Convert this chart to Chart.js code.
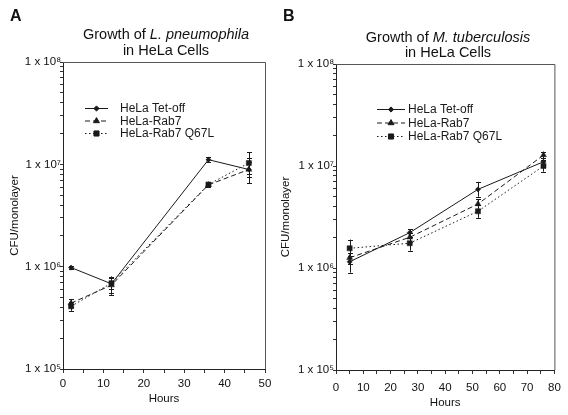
<!DOCTYPE html>
<html><head><meta charset="utf-8">
<script src="https://cdn.jsdelivr.net/npm/chart.js@4"></script>
<style>
html,body{margin:0;padding:0;background:#fff;}
#wrap{position:relative;width:568px;height:415px;overflow:hidden;font-family:"Liberation Sans",Arial,sans-serif;color:#111;}
canvas{position:absolute;top:0;}
.t{position:absolute;white-space:nowrap;transform:translateX(-50%);font-size:14.5px;height:18px;line-height:18px;}
.lt{position:absolute;font-weight:bold;font-size:16px;height:18px;line-height:18px;}
</style></head>
<body><div id="wrap">
<canvas id="cA" width="276" height="415" style="left:0"></canvas>
<canvas id="cB" width="292" height="415" style="left:276px"></canvas>
<div class="lt" style="left:10px;top:6.5px">A</div>
<div class="lt" style="left:283px;top:6.5px">B</div>
<div class="t" style="left:166px;top:25px">Growth of <i>L. pneumophila</i></div>
<div class="t" style="left:166px;top:41px">in HeLa Cells</div>
<div class="t" style="left:448px;top:28px">Growth of <i>M. tuberculosis</i></div>
<div class="t" style="left:448px;top:43px">in HeLa Cells</div>
</div>
<script>
// ---- Data ----
const seriesNames = ["HeLa Tet-off", "HeLa-Rab7", "HeLa-Rab7 Q67L"];

// Panel A: L. pneumophila
const hoursA = [2, 12, 36, 46];
const tetOffA   = [9.8e5, 6.8e5, 1.11e7, 8.9e6];
const tetOffA_lo = [9.5e5, 6.0e5, 1.05e7, 7.5e6];
const tetOffA_hi = [1.02e6, 7.8e5, 1.18e7, 1.05e7];
const rab7A     = [4.4e5, 6.6e5, 6.3e6, 8.9e6];
const rab7A_lo  = [4.0e5, 5.5e5, 6.0e6, 6.5e6];
const rab7A_hi  = [4.8e5, 8.0e5, 6.6e6, 1.15e7];
const q67lA     = [4.1e5, 6.9e5, 6.35e6, 1.03e7];
const q67lA_lo  = [3.7e5, 5.3e5, 6.0e6, 8.0e6];
const q67lA_hi  = [4.5e5, 8.0e5, 6.7e6, 1.32e7];

// Panel B: M. tuberculosis
const hoursB = [5, 27, 52, 76];
const tetOffB   = [1.15e6, 2.22e6, 5.9e6, 1.10e7];
const tetOffB_lo = [9.0e5, 2.0e6, 5.0e6, 1.0e7];
const tetOffB_hi = [1.3e6, 2.4e6, 7.0e6, 1.2e7];
const rab7B     = [1.26e6, 2.0e6, 4.24e6, 1.28e7];
const rab7B_lo  = [1.1e6, 1.8e6, 3.8e6, 1.15e7];
const rab7B_hi  = [1.4e6, 2.2e6, 4.7e6, 1.38e7];
const q67lB     = [1.56e6, 1.75e6, 3.6e6, 1.0e7];
const q67lB_lo  = [1.3e6, 1.48e6, 3.1e6, 8.8e6];
const q67lB_hi  = [1.9e6, 2.0e6, 4.1e6, 1.15e7];

// Axis ticks
const yDecades = [1e5, 1e6, 1e7, 1e8];
const yMinorMultipliers = [2, 3, 4, 5, 6, 7, 8, 9];
const xTickStep = 5;
const xLabelStep = 10;

// ---- Styles ----
const FONT = '"Liberation Sans", Arial, sans-serif';
const INK = '#1a1a1a';
const styles = [
  {pointStyle: 'rectRot', radius: 2.6, dash: []},
  {pointStyle: 'triangle', radius: 3.4, dash: [5, 3]},
  {pointStyle: 'rect', radius: 3.6, dash: [1.5, 2.5]}
];
const supers = {'0':'⁰','1':'¹','2':'²','3':'³','4':'⁴','5':'⁵','6':'⁶','7':'⁷','8':'⁸','9':'⁹'};

function yTicks() {
  const t = [];
  for (let i = 0; i < yDecades.length; i++) {
    t.push({value: yDecades[i], major: true});
    if (i < yDecades.length - 1) yMinorMultipliers.forEach(m => t.push({value: m * yDecades[i], major: false}));
  }
  return t.sort((a, b) => a.value - b.value);
}

function buildDatasets(hours, vals, los, his) {
  return vals.map((v, i) => ({
    label: seriesNames[i],
    data: hours.map((h, j) => ({x: h, y: v[j]})),
    lo: los[i], hi: his[i],
    borderColor: INK, backgroundColor: INK,
    borderWidth: 1, borderDash: styles[i].dash,
    pointStyle: styles[i].pointStyle, pointRadius: styles[i].radius,
    pointBorderWidth: 0.5, pointBorderColor: INK, pointBackgroundColor: INK,
    tension: 0, fill: false
  }));
}

const framePlugin = {
  id: 'frame',
  beforeDatasetsDraw(chart) {
    const {ctx, chartArea: a} = chart;
    ctx.save();
    ctx.strokeStyle = '#555';
    ctx.lineWidth = 1;
    ctx.beginPath();
    ctx.moveTo(a.left, a.top + 0.5); ctx.lineTo(a.right + 0.5, a.top + 0.5); ctx.lineTo(a.right + 0.5, a.bottom);
    ctx.stroke();
    ctx.restore();
  }
};

const errorBarPlugin = {
  id: 'errorBars',
  afterDatasetsDraw(chart) {
    const {ctx} = chart;
    const xs = chart.scales.x, ys = chart.scales.y;
    ctx.save();
    ctx.strokeStyle = INK;
    ctx.lineWidth = 1;
    chart.data.datasets.forEach(ds => {
      ds.data.forEach((p, j) => {
        const x = Math.round(xs.getPixelForValue(p.x)) + 0.5;
        const y1 = ys.getPixelForValue(ds.lo[j]);
        const y2 = ys.getPixelForValue(ds.hi[j]);
        ctx.beginPath();
        ctx.moveTo(x, y1); ctx.lineTo(x, y2);
        ctx.moveTo(x - 2.5, Math.round(y1) + 0.5); ctx.lineTo(x + 2.5, Math.round(y1) + 0.5);
        ctx.moveTo(x - 2.5, Math.round(y2) + 0.5); ctx.lineTo(x + 2.5, Math.round(y2) + 0.5);
        ctx.stroke();
      });
    });
    ctx.restore();
  }
};

const legendPlugin = {
  id: 'customLegend',
  afterDraw(chart, args, opts) {
    const {ctx} = chart;
    ctx.save();
    chart.data.datasets.forEach((ds, i) => {
      const y = opts.rows[i];
      ctx.strokeStyle = INK; ctx.lineWidth = 1;
      ctx.setLineDash(styles[i].dash);
      ctx.beginPath();
      ctx.moveTo(opts.x1, y + 0.5); ctx.lineTo(opts.x2, y + 0.5);
      ctx.stroke();
      ctx.setLineDash([]);
      ctx.fillStyle = INK;
      Chart.helpers.drawPoint(ctx, {pointStyle: styles[i].pointStyle, radius: styles[i].radius, borderWidth: 0.5}, (opts.x1 + opts.x2) / 2, y + 0.5);
      ctx.font = '12px ' + FONT;
      ctx.textBaseline = 'middle';
      ctx.textAlign = 'left';
      ctx.fillText(ds.label, opts.textX, y + 1);
    });
    ctx.restore();
  }
};

function makeChart(id, cfg) {
  new Chart(document.getElementById(id), {
    type: 'line',
    data: {datasets: cfg.datasets},
    options: {
      responsive: false, animation: false,
      layout: {padding: {left: 0, right: cfg.padRight, top: cfg.padTop, bottom: 0}},
      plugins: {
        legend: {display: false}, tooltip: {enabled: false}, title: {display: false},
        customLegend: cfg.legend
      },
      scales: {
        x: {
          type: 'linear', min: 0, max: cfg.xMax,
          afterFit: s => { s.height = cfg.xHeight; },
          ticks: {
            stepSize: xTickStep, autoSkip: false, maxRotation: 0, padding: cfg.xTickPad,
            color: '#111', font: {family: FONT, size: 11.5},
            callback: v => (v % xLabelStep === 0 ? String(v) : '')
          },
          grid: {drawOnChartArea: false, drawTicks: true, tickLength: 4, color: '#333'},
          border: {color: '#222', width: 1},
          title: {display: true, text: 'Hours', color: '#111', font: {family: FONT, size: 11.5}, padding: {top: 0, bottom: cfg.xTitlePad}}
        },
        y: {
          type: 'logarithmic', min: yDecades[0], max: yDecades[yDecades.length - 1],
          afterFit: s => { s.width = cfg.yWidth; },
          afterBuildTicks: s => { s.ticks = yTicks(); },
          ticks: {
            autoSkip: false, padding: -1, color: '#111', font: {family: FONT, size: 11.5},
            callback: v => {
              const e = Math.log10(v);
              if (Math.abs(e - Math.round(e)) > 1e-9) return '';
              return '1 x 10' + String(Math.round(e)).split('').map(c => supers[c]).join('');
            }
          },
          grid: {drawOnChartArea: false, drawTicks: true, tickLength: 3, color: '#333'},
          border: {color: '#222', width: 1},
          title: {display: true, text: 'CFU/monolayer', color: '#111', font: {family: FONT, size: 11.5}, padding: {top: cfg.yTitlePad, bottom: 0}}
        }
      }
    },
    plugins: [framePlugin, errorBarPlugin, legendPlugin]
  });
}

makeChart('cA', {
  datasets: buildDatasets(hoursA, [tetOffA, rab7A, q67lA], [tetOffA_lo, rab7A_lo, q67lA_lo], [tetOffA_hi, rab7A_hi, q67lA_hi]),
  xMax: 50, padRight: 11, padTop: 62, yWidth: 63, xHeight: 46,
  xTickPad: 4.2, xTitlePad: 9, yTitlePad: 8.1,
  legend: {x1: 85, x2: 108, textX: 120, rows: [108, 120.5, 133]}
});

makeChart('cB', {
  datasets: buildDatasets(hoursB, [tetOffB, rab7B, q67lB], [tetOffB_lo, rab7B_lo, q67lB_lo], [tetOffB_hi, rab7B_hi, q67lB_hi]),
  xMax: 80, padRight: 13, padTop: 64, yWidth: 60, xHeight: 45,
  xTickPad: 7.2, xTitlePad: 5, yTitlePad: 2.6,
  legend: {x1: 101, x2: 129, textX: 132, rows: [109, 122.5, 136]}
});
</script>
</body></html>
